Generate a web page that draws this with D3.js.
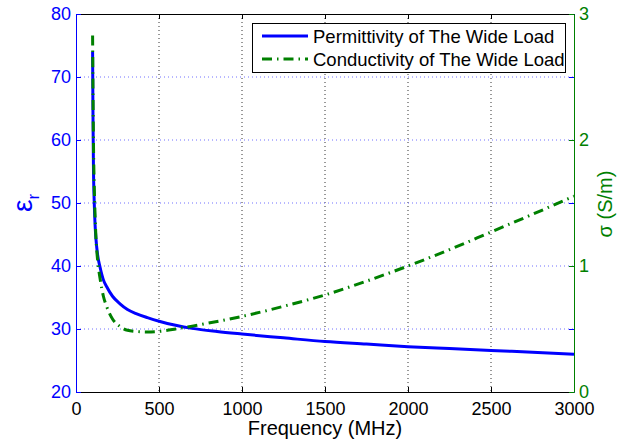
<!DOCTYPE html>
<html>
<head>
<meta charset="utf-8">
<script src="https://cdn.jsdelivr.net/npm/d3@7"></script>
<style>
  body { margin: 0; background: #fff; }
  text { font-family: "Liberation Sans", Arial, sans-serif; }
</style>
</head>
<body>
<div id="graph"></div>
<script>
// values
var freq = [100, 102, 105, 110, 115, 120, 130, 145, 165, 185, 220, 265, 310, 366, 430, 506,
            600, 700, 850, 1000, 1250, 1500, 1750, 2000, 2250, 2500, 2750, 3000];
var permittivity = [74, 65, 56, 50, 46.5, 44.4, 41.8, 39.8, 37.8, 36.7, 35.2, 34.0, 33.1, 32.4,
                    31.8, 31.2, 30.6, 30.1, 29.6, 29.2, 28.6, 28.0, 27.6, 27.2, 26.9, 26.6, 26.3, 26.0];
var conductivity = [2.83, 2.45, 2.0, 1.63, 1.40, 1.23, 1.05, 0.90, 0.76, 0.677, 0.58, 0.52, 0.49,
                    0.48, 0.477, 0.482, 0.50, 0.523, 0.56, 0.60, 0.68, 0.77, 0.88, 1.0, 1.13, 1.27, 1.41, 1.555];
var xTicks = [0, 500, 1000, 1500, 2000, 2500, 3000];
var leftTicks = [20, 30, 40, 50, 60, 70, 80];
var rightTicks = [0, 1, 2, 3];
var legendLabels = ["Permittivity of The Wide Load", "Conductivity of The Wide Load"];

var blue = "#0000ff", green = "#008000";
var w = 636, h = 440;
var pLeft = 76, pRight = 574, pTop = 14, pBottom = 392;

var vis = d3.select("#graph").append("svg").attr("width", w).attr("height", h);

var x = d3.scaleLinear().domain([0, 3000]).range([pLeft, pRight]);
var yL = d3.scaleLinear().domain([20, 80]).range([pBottom, pTop]);
var yR = d3.scaleLinear().domain([0, 3]).range([pBottom, pTop]);

// grid
vis.append("g").selectAll("line")
   .data(xTicks.slice(1, -1))
   .enter().append("line")
   .attr("x1", d => x(d)).attr("x2", d => x(d))
   .attr("y1", pTop).attr("y2", pBottom)
   .attr("stroke", "#333").attr("stroke-width", 1)
   .attr("stroke-dasharray", "1,3");

vis.append("g").selectAll("line")
   .data(leftTicks.slice(1, -1))
   .enter().append("line")
   .attr("x1", pLeft).attr("x2", pRight)
   .attr("y1", d => yL(d)).attr("y2", d => yL(d))
   .attr("stroke", "#7070ff").attr("stroke-width", 1)
   .attr("stroke-dasharray", "1,3");

// axes (inward ticks)
var tk = 5;
vis.append("g").attr("transform", `translate(0,${pBottom})`)
   .call(d3.axisBottom(x).tickValues(xTicks).tickFormat(d3.format("d"))
           .tickSizeInner(-tk).tickSizeOuter(0).tickPadding(10))
   .call(g => g.select(".domain").attr("stroke", "#000"))
   .call(g => g.selectAll("text").attr("font-size", 18).attr("fill", "#000"));
vis.append("g").attr("transform", `translate(0,${pTop})`)
   .call(d3.axisTop(x).tickValues(xTicks).tickSizeInner(-tk).tickSizeOuter(0).tickFormat(""))
   .call(g => g.select(".domain").attr("stroke", "#000"));

vis.append("g").attr("transform", `translate(${pRight},0)`)
   .call(d3.axisRight(yL).tickValues(leftTicks).tickSizeInner(-tk).tickSizeOuter(0).tickFormat(""))
   .call(g => g.selectAll("line, .domain").attr("stroke", blue));

vis.append("g").attr("transform", `translate(${pLeft},0)`)
   .call(d3.axisLeft(yL).tickValues(leftTicks).tickSizeInner(-tk).tickSizeOuter(0).tickPadding(5))
   .call(g => g.selectAll("line, .domain").attr("stroke", blue))
   .call(g => g.selectAll("text").attr("font-size", 18).attr("fill", blue));

vis.append("g").attr("transform", `translate(${pRight},0)`)
   .call(d3.axisRight(yR).tickValues(rightTicks).tickFormat(d3.format("d"))
           .tickSizeInner(-tk).tickSizeOuter(0).tickPadding(5))
   .call(g => g.selectAll("line, .domain").attr("stroke", green))
   .call(g => g.selectAll("text").attr("font-size", 18).attr("fill", green));

// curves
vis.append("clipPath").attr("id", "plot")
   .append("rect").attr("x", pLeft).attr("y", pTop)
   .attr("width", pRight - pLeft).attr("height", pBottom - pTop);

var lineL = d3.line().x((d, i) => x(freq[i])).y(d => yL(d)).curve(d3.curveMonotoneX);
var lineR = d3.line().x((d, i) => x(freq[i])).y(d => yR(d)).curve(d3.curveMonotoneX);

vis.append("path").datum(permittivity)
   .attr("clip-path", "url(#plot)")
   .attr("d", lineL).attr("fill", "none")
   .attr("stroke", blue).attr("stroke-width", 3);

vis.append("path").datum(conductivity)
   .attr("clip-path", "url(#plot)")
   .attr("d", lineR).attr("fill", "none")
   .attr("stroke", green).attr("stroke-width", 3)
   .attr("stroke-dasharray", "10,5,1.5,5");

// labels
vis.append("text").attr("x", (pLeft + pRight) / 2).attr("y", 435)
   .attr("text-anchor", "middle").attr("font-size", 20).text("Frequency (MHz)");

var epsLabel = vis.append("text")
   .attr("transform", "translate(32,203) rotate(-90)")
   .attr("text-anchor", "middle").attr("fill", blue);
epsLabel.append("tspan").attr("font-size", 28).text("ε");
epsLabel.append("tspan").attr("font-size", 17).attr("dy", 7).text("r");

vis.append("text")
   .attr("transform", "translate(612,204) rotate(-90)")
   .attr("text-anchor", "middle").attr("font-size", 20).attr("fill", green)
   .text("σ (S/m)");

// legend
var lg = vis.append("g");
lg.append("rect").attr("x", 252.5).attr("y", 23.5).attr("width", 313).attr("height", 49)
  .attr("fill", "#fff").attr("stroke", "#000").attr("stroke-width", 1);
var rows = lg.selectAll("g").data(legendLabels).enter().append("g")
  .attr("transform", (d, i) => `translate(0,${36 + i * 23})`);
rows.append("line").attr("x1", 262).attr("x2", 308).attr("y1", 0).attr("y2", 0)
  .attr("stroke", (d, i) => i ? green : blue).attr("stroke-width", 3)
  .attr("stroke-dasharray", (d, i) => i ? "10,5,1.5,5" : null);
rows.append("text").attr("x", 313).attr("y", 6.5).attr("font-size", 18.5).attr("fill", "#000")
  .text(d => d);
</script>
</body>
</html>
